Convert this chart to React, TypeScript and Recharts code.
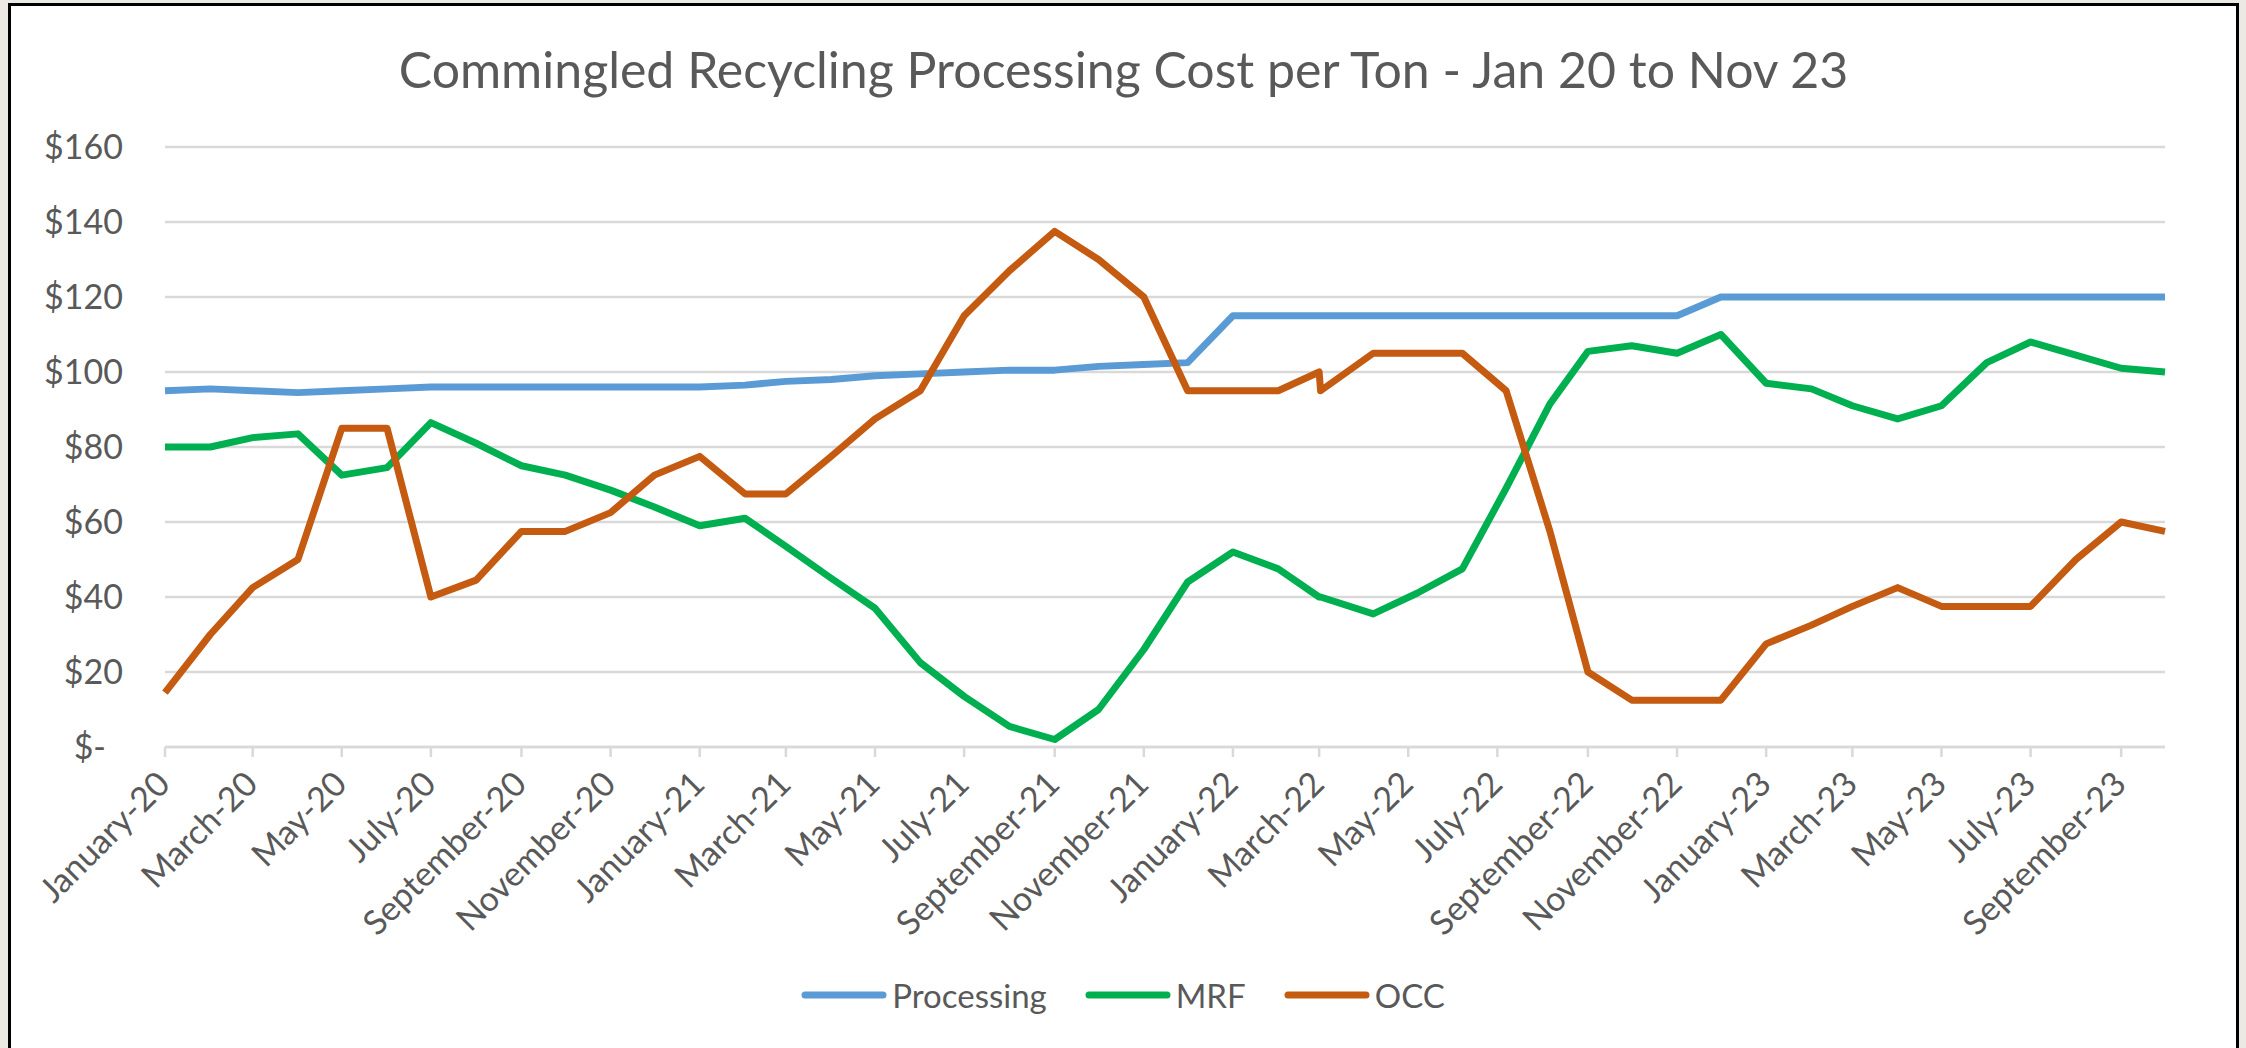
import { CartesianGrid, Legend, Line, LineChart, XAxis, YAxis } from 'recharts'

const dates = [
  '2020-01-01', '2020-02-01', '2020-03-01', '2020-04-01', '2020-05-01', '2020-06-01',
  '2020-07-01', '2020-08-01', '2020-09-01', '2020-10-01', '2020-11-01', '2020-12-01',
  '2021-01-01', '2021-02-01', '2021-03-01', '2021-04-01', '2021-05-01', '2021-06-01',
  '2021-07-01', '2021-08-01', '2021-09-01', '2021-10-01', '2021-11-01', '2021-12-01',
  '2022-01-01', '2022-02-01', '2022-03-01', '2022-03-02', '2022-04-07', '2022-05-07',
  '2022-06-07', '2022-07-07', '2022-08-06', '2022-09-01', '2022-10-01', '2022-11-01',
  '2022-12-01',
  '2023-01-01', '2023-02-01', '2023-03-01', '2023-04-01', '2023-05-01', '2023-06-01',
  '2023-07-01', '2023-08-01', '2023-09-01', '2023-10-01',
]

const processing = [
  95, 95.5, 95, 94.5, 95, 95.5, 96, 96, 96, 96, 96, 96,
  96, 96.5, 97.5, 98, 99, 99.5, 100, 100.5, 100.5, 101.5, 102, 102.5,
  115, 115, 115, 115, 115, 115, 115, 115, 115, 115, 115, 115, 120,
  120, 120, 120, 120, 120, 120, 120, 120, 120, 120,
]

const mrf = [
  80, 80, 82.5, 83.5, 72.5, 74.5, 86.5, 81, 75, 72.5, 68.5, 64,
  59, 61, 53.5, 45, 37, 22.5, 13.5, 5.5, 2, 10, 26, 44,
  52, 47.5, 40, 40, 35.5, 41, 47.5, 69, 91.5, 105.5, 107, 105, 110,
  97, 95.5, 91, 87.5, 91, 102.5, 108, 104.5, 101, 100,
]

const occ = [
  14.5, 30, 42.5, 50, 85, 85, 40, 44.5, 57.5, 57.5, 62.5, 72.5,
  77.5, 67.5, 67.5, 77.5, 87.5, 95, 115, 127, 137.5, 130, 120, 95,
  95, 95, 100, 95, 105, 105, 105, 95, 57.5, 20, 12.5, 12.5, 12.5,
  27.5, 32.5, 37.5, 42.5, 37.5, 37.5, 37.5, 50, 60, 57.5,
]

const tickDates = [
  '2020-01-01', '2020-03-01', '2020-05-01', '2020-07-01', '2020-09-01', '2020-11-01',
  '2021-01-01', '2021-03-01', '2021-05-01', '2021-07-01', '2021-09-01', '2021-11-01',
  '2022-01-01', '2022-03-01', '2022-05-01', '2022-07-01', '2022-09-01', '2022-11-01',
  '2023-01-01', '2023-03-01', '2023-05-01', '2023-07-01', '2023-09-01',
]

const yTicks = [0, 20, 40, 60, 80, 100, 120, 140, 160]

const monthNames = [
  'January', 'February', 'March', 'April', 'May', 'June',
  'July', 'August', 'September', 'October', 'November', 'December',
]

const series = [
  { key: 'Processing', color: '#5B9BD5' },
  { key: 'MRF', color: '#00B050' },
  { key: 'OCC', color: '#C55A11' },
]

const data = dates.map((d, i) => ({
  t: Date.parse(d),
  Processing: processing[i],
  MRF: mrf[i],
  OCC: occ[i],
}))

const FONT = 'Lato, "Open Sans", sans-serif'
const TEXT = '#595959'
const TICK_SIZE = 34

const monthLabel = (t: number) => {
  const d = new Date(t)
  return `${monthNames[d.getUTCMonth()]}-${String(d.getUTCFullYear()).slice(2)}`
}

const dollar = (v: number) => (v === 0 ? '$-\u2002' : `$${v}`)

function XTick({ x, y, payload }: any) {
  return (
    <g transform={`translate(${x + 7},${y + 27})`}>
      <text
        x={0}
        y={0}
        textAnchor="end"
        transform="rotate(-45)"
        fill={TEXT}
        fontSize={TICK_SIZE}
        fontFamily={FONT}
      >
        {monthLabel(payload.value)}
      </text>
    </g>
  )
}

// keep the legend in series order (Recharts sorts by name otherwise)
function LegendContent({ payload }: any) {
  const items = series
    .map((s) => (payload ?? []).find((p: any) => p.dataKey === s.key || p.value === s.key))
    .filter(Boolean)
  return (
    <div
      style={{
        height: 60,
        display: 'flex',
        justifyContent: 'center',
        alignItems: 'center',
        gap: 38,
        fontFamily: FONT,
        fontSize: 33,
        color: TEXT,
      }}
    >
      {items.map((p: any) => (
        <div key={p.value} style={{ display: 'flex', alignItems: 'center' }}>
          <svg width={86} height={12}>
            <line x1={4} y1={6} x2={82} y2={6} stroke={p.color} strokeWidth={7} strokeLinecap="round" />
          </svg>
          <span style={{ marginLeft: 5 }}>{p.value}</span>
        </div>
      ))}
    </div>
  )
}

export default function App() {
  return (
    <div
      style={{
        position: 'fixed',
        left: 0,
        top: 0,
        width: 2246,
        height: 1048,
        background: '#ECE9E4',
        overflow: 'hidden',
      }}
    >
      <div
        style={{
          position: 'absolute',
          left: 8,
          top: 3,
          width: 2231,
          height: 1100,
          border: '3px solid #000',
          boxSizing: 'border-box',
          background: '#fff',
        }}
      />
      <div
        style={{
          position: 'absolute',
          left: 8,
          top: 39,
          width: 2231,
          height: 60,
          lineHeight: '60px',
          textAlign: 'center',
          fontFamily: FONT,
          fontSize: 50,
          color: TEXT,
        }}
      >
        Commingled Recycling Processing Cost per Ton - Jan 20 to Nov 23
      </div>
      <div style={{ position: 'absolute', left: 0, top: 0 }}>
        <LineChart width={2246} height={1048} data={data} margin={{ top: 147, right: 81, bottom: 23, left: 0 }}>
          <CartesianGrid vertical={false} stroke="#D9D9D9" strokeWidth={2.5} />
          <XAxis
            type="number"
            dataKey="t"
            domain={['dataMin', 'dataMax']}
            ticks={tickDates.map((d) => Date.parse(d))}
            tick={<XTick />}
            tickSize={10}
            tickLine={{ stroke: '#D9D9D9', strokeWidth: 2.5 }}
            axisLine={{ stroke: '#D9D9D9', strokeWidth: 2.5 }}
            height={218}
            interval={0}
          />
          <YAxis
            domain={[0, 160]}
            ticks={yTicks}
            tickFormatter={dollar}
            axisLine={false}
            tickLine={false}
            tickMargin={36}
            width={165}
            tick={{ fill: TEXT, fontSize: TICK_SIZE, fontFamily: FONT }}
          />
          <Legend
            verticalAlign="bottom"
            content={<LegendContent />}
            wrapperStyle={{ left: 0, width: 2246 }}
          />
          {series.map((s) => (
            <Line
              key={s.key}
              type="linear"
              dataKey={s.key}
              stroke={s.color}
              strokeWidth={7}
              strokeLinejoin="round"
              dot={false}
              activeDot={false}
              isAnimationActive={false}
            />
          ))}
        </LineChart>
      </div>
    </div>
  )
}
